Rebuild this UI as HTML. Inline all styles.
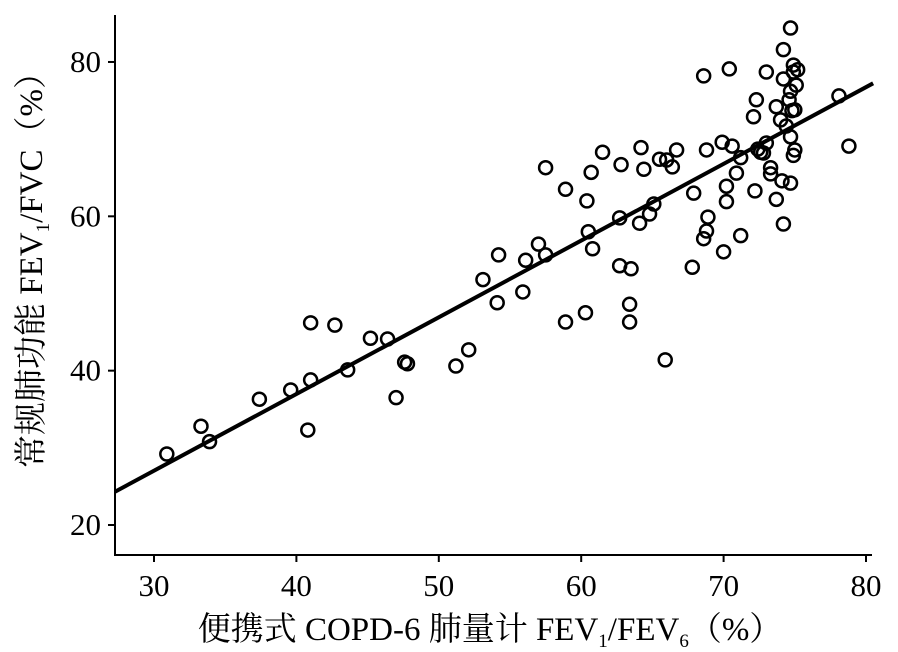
<!DOCTYPE html>
<html><head><meta charset="utf-8"><style>
body{margin:0;background:#fff;}
svg{display:block;font-family:"Liberation Serif","Noto Serif CJK SC",serif;}
</style></head><body>
<svg id="chart" width="898" height="652" viewBox="0 0 898 652">
<g id="plot"></g>
</svg>
<script>
const xTicks=[30,40,50,60,70,80];
const yTicks=[20,40,60,80];
const lineX=[27.2,80.5];
const fitSlope=0.993, fitIntercept=-2.7;
const px=[167,201,210,259,290,308,310,311,335,348,371,387,396,405,407,456,469,483,497,498,523,525,539,545,545,565,565,586,587,589,591,592,602,620,620,621,631,629,630,640,641,644,649,654,660,665,666,672,677,692,694,703,707,703,708,706,722,724,726,727,730,732,737,740,741,754,757,755,758,760,763,766,767,770,771,776,776,781,783,782,783,784,786,789,790,791,791,791,792,793,794,794,795,795,796,797,839,849];
const py=[454,426,442,399,390,430,380,323,325,370,338,339,398,362,364,366,350,280,303,255,292,260,244,255,168,189,322,313,201,232,172,249,152,266,218,165,269,322,304,223,148,169,214,204,159,360,160,167,150,267,193,239,231,76,217,150,142,252,186,202,69,146,173,158,236,117,100,191,149,152,153,72,143,168,174,107,199,120,79,181,224,50,126,100,183,28,91,137,111,155,65,72,150,110,85,70,96,146];
const xVals=px.map(p=>+((p-154)/14.24+30).toFixed(1));
const yVals=py.map(p=>+(80-(p-62)/7.717).toFixed(1));

const X0=154,XS=14.24,Y0=525,YS=7.717;
const sx=v=>X0+(v-30)*XS;
const sy=v=>Y0-(v-20)*YS;
const ns="http://www.w3.org/2000/svg";
const g=document.getElementById('plot');
function mk(t,a){const e=document.createElementNS(ns,t);for(const k in a)e.setAttribute(k,a[k]);g.appendChild(e);return e;}

let ax=mk('line',{x1:115,y1:15,x2:115,y2:555,stroke:'#000','stroke-width':2});


ax=mk('line',{x1:114,y1:555,x2:872,y2:555,stroke:'#000','stroke-width':2});



xTicks.forEach(v=>{
  const t=mk('line',{x1:sx(v),y1:555,x2:sx(v),y2:562,stroke:'#000','stroke-width':2});
  
  
  const l=mk('text',{x:sx(v),y:596,'text-anchor':'middle','font-size':31});
  l.textContent=v;
  
  
});
yTicks.forEach(v=>{
  const t=mk('line',{x1:108,y1:sy(v),x2:115,y2:sy(v),stroke:'#000','stroke-width':2});
  
  
  const l=mk('text',{x:101,y:sy(v)+10,'text-anchor':'end','font-size':31});
  l.textContent=v;
  
  
});

const fl=mk('line',{x1:115,y1:sy(fitSlope*lineX[0]+fitIntercept),x2:sx(lineX[1]),y2:sy(fitSlope*lineX[1]+fitIntercept),stroke:'#000','stroke-width':4});



xVals.forEach((v,i)=>{
  const c=mk('circle',{cx:sx(v),cy:sy(yVals[i]),r:6.5,fill:'none',stroke:'#000','stroke-width':2.5});
  
  
});

const xl=mk('text',{x:490,y:640,'text-anchor':'middle','font-size':33});
xl.innerHTML='便携式 COPD-6 肺量计 FEV<tspan font-size="19" dy="7">1</tspan><tspan dy="-7">/FEV</tspan><tspan font-size="19" dy="7">6</tspan><tspan dy="-7">（%）</tspan>';


const yl=mk('text',{x:0,y:0,'text-anchor':'middle','font-size':33,transform:'translate(42,262) rotate(-90)'});
yl.innerHTML='常规肺功能 FEV<tspan font-size="19" dy="7">1</tspan><tspan dy="-7">/FVC（%）</tspan>';


</script>
</body></html>
